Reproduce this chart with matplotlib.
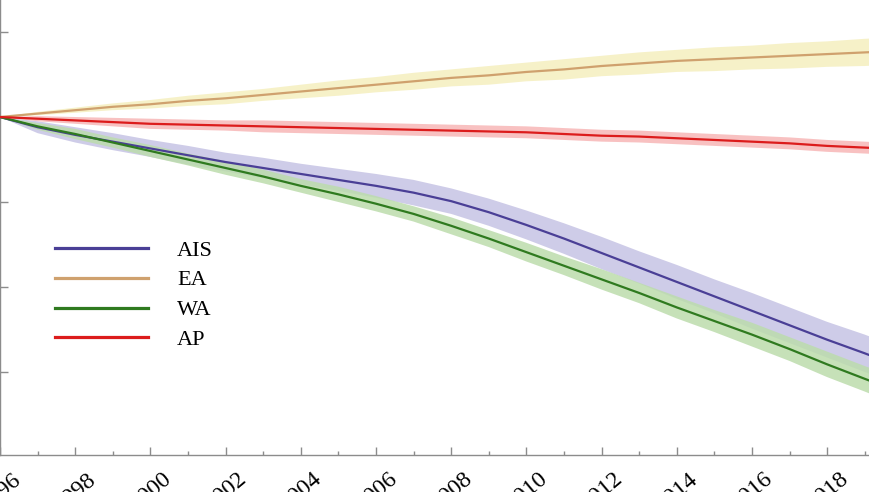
import numpy as np
import matplotlib
matplotlib.use("Agg")
import matplotlib.pyplot as plt
from matplotlib.ticker import MultipleLocator

plt.rcParams["font.family"] = ["Liberation Serif", "DejaVu Serif"]

years = list(range(1996, 2021))

ais = [0, -0.12, -0.21, -0.29, -0.37, -0.45, -0.53, -0.60, -0.67, -0.74, -0.81, -0.89, -0.99,
       -1.12, -1.27, -1.43, -1.60, -1.77, -1.94, -2.11, -2.28, -2.45, -2.62, -2.78, -2.95]
ea = [0, 0.04, 0.08, 0.12, 0.15, 0.19, 0.22, 0.26, 0.30, 0.34, 0.38, 0.42, 0.46,
      0.49, 0.53, 0.56, 0.60, 0.63, 0.66, 0.68, 0.70, 0.72, 0.74, 0.76, 0.78]
wa = [0, -0.11, -0.20, -0.30, -0.40, -0.50, -0.60, -0.70, -0.81, -0.91, -1.02, -1.14, -1.28,
      -1.43, -1.59, -1.75, -1.91, -2.07, -2.24, -2.40, -2.56, -2.73, -2.91, -3.08, -3.25]
ap = [0, -0.02, -0.04, -0.06, -0.08, -0.09, -0.10, -0.11, -0.12, -0.13, -0.14, -0.15, -0.16,
      -0.17, -0.18, -0.20, -0.22, -0.23, -0.25, -0.27, -0.29, -0.31, -0.34, -0.36, -0.38]

# half width of the shaded uncertainty bands
ais_err = [0, 0.07, 0.09, 0.10, 0.10, 0.11, 0.11, 0.12, 0.12, 0.13, 0.14, 0.15, 0.15,
           0.16, 0.17, 0.18, 0.19, 0.19, 0.20, 0.20, 0.21, 0.21, 0.21, 0.22, 0.22]
ea_err = [0, 0.02, 0.03, 0.04, 0.05, 0.06, 0.07, 0.07, 0.08, 0.09, 0.09, 0.10, 0.10,
          0.11, 0.11, 0.12, 0.12, 0.13, 0.13, 0.14, 0.14, 0.15, 0.15, 0.16, 0.16]
wa_err = [0, 0.04, 0.06, 0.06, 0.07, 0.07, 0.08, 0.08, 0.08, 0.09, 0.09, 0.09, 0.10,
          0.10, 0.11, 0.11, 0.12, 0.12, 0.13, 0.13, 0.14, 0.14, 0.15, 0.15, 0.16]
ap_err = [0, 0.03, 0.04, 0.05, 0.06, 0.06, 0.06, 0.07, 0.07, 0.07, 0.07, 0.07, 0.07,
          0.07, 0.07, 0.07, 0.07, 0.07, 0.07, 0.07, 0.07, 0.07, 0.07, 0.07, 0.07]

series = [
    ("AIS", ais, ais_err, "#4a3f96", "#c6c3e4"),
    ("EA", ea, ea_err, "#cfa16e", "#f5efbf"),
    ("WA", wa, wa_err, "#2f7a1f", "#bcdcac"),
    ("AP", ap, ap_err, "#dc1c1c", "#f7b7b7"),
]

fig = plt.figure(figsize=(8.7, 4.92), dpi=100)
ax = fig.add_axes([0, 37 / 492, 1, 455 / 492])

x = np.array(years)
handles = []
for name, vals, err, col, band in series:
    v = np.array(vals)
    e = np.array(err)
    ax.fill_between(x, v - e, v + e, color=band, alpha=0.85, lw=0, zorder=1)
for name, vals, err, col, band in series:
    ln, = ax.plot(x, vals, color=col, lw=1.6, label=name, zorder=3)
    handles.append(ln)

ax.set_xlim(1996, 2019.14)
ax.set_ylim((117 - 455) / 85, 117 / 85)

for s in ["top", "right"]:
    ax.spines[s].set_visible(False)
for s in ["left", "bottom"]:
    ax.spines[s].set_color("#8c8c8c")
    ax.spines[s].set_linewidth(1.0)

ax.xaxis.set_major_locator(MultipleLocator(2))
ax.xaxis.set_minor_locator(MultipleLocator(1))
ax.yaxis.set_major_locator(MultipleLocator(1))
ax.tick_params(axis="both", which="major", direction="in", length=6, width=1,
               color="#8c8c8c", labelsize=17, pad=10)
ax.tick_params(axis="x", which="minor", direction="in", length=3, width=1, color="#8c8c8c")
ax.set_xticks(range(1996, 2020, 2))
ax.set_xticklabels([str(y) for y in range(1996, 2020, 2)], rotation=40, ha="center")
ax.set_yticklabels([])

leg = ax.legend(handles=handles, loc="upper left", bbox_to_anchor=(55 / 870, 1 - 240 / 455),
                frameon=False, fontsize=16, handlelength=4.2, handletextpad=1.3,
                labelspacing=0.42, borderpad=0, borderaxespad=0)
for l in leg.get_lines():
    l.set_linewidth(2.3)

fig.savefig("out.png", dpi=100)
